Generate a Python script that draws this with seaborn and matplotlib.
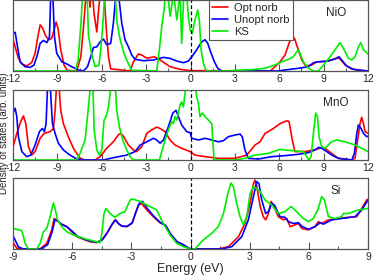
import numpy as np
import pandas as pd
import matplotlib
matplotlib.use('Agg')
import matplotlib.pyplot as plt
import seaborn as sns

# NiO
nio_opt_e = [-12.0, -11.86, -11.64, -11.41, -11.08, -10.74, -10.51, -10.33, -10.17, -9.99, -9.79, -9.57, -9.39, -9.23,
             -9.09, -8.96, -8.78, -8.55, -8.33, -7.70, -7.42, -7.24, -7.06, -6.9, -6.8, -6.68, -6.52, -6.34, -6.2, -6.05,
             -5.85, -5.7, -5.55, -5.4, -4.09, -3.86, -3.53, -3.3, -2.96, -2.46, -2.06, -1.38, -0.71, -0.03, 5.38, 5.71,
             6.05, 6.39, 6.66, 6.85, 7.05, 7.18, 7.29, 7.52, 7.79, 8.19, 8.53, 9.09, 9.66, 9.95, 10.17, 10.45, 10.9,
             11.57, 12.0]
nio_opt_v = [4.4, 3.4, 1.8, 1.0, 0.7, 1.2, 2.5, 4.8, 6.5, 6.0, 4.9, 4.4, 4.6, 5.8,
             6.9, 6.0, 3.0, 0.8, 0.1, 0.0, 2.0, 6.2, 11, 12, 9, 12, 8, 5.5, 9, 12,
             11, 6, 2, 0.3, 0.0, 1.3, 2.4, 2.25, 1.8, 2.0, 1.55, 0.6, 0.23, 0.05, 0.0, 0.6,
             1.3, 2.25, 3.9, 5.0, 4.5, 3.6, 3.0, 1.55, 0.7, 0.85, 1.27, 1.36, 1.64, 1.92, 1.55, 0.85, 0.28,
             0.05, 0.0]
nio_unopt_e = [-12.0, -11.86, -11.7, -11.53, -11.19, -10.85, -10.58, -10.36, -10.17, -9.95, -9.72, -9.54, -9.45, -9.32,
               -9.2, -9.05, -8.71, -8.37, -8.03, -7.58, -7.25, -6.97, -6.75, -6.57, -6.34, -6.12, -5.89, -5.67, -5.4,
               -5.22, -5.04, -4.88, -4.65, -4.43, -4.2, -3.98, -3.75, -3.19, -2.51, -1.83, -1.39, -0.93, -0.48, -0.15,
               0.08, 0.42, 0.75, 0.98, 1.16, 1.39, 1.61, 1.84, 2.11, 5.94, 6.39, 7.29, 7.97, 8.31, 8.64, 9.32, 9.88,
               10.04, 10.22, 10.56, 11.01, 12.0]
nio_unopt_v = [5.3, 5.45, 3.4, 1.3, 0.6, 0.5, 0.85, 2.25, 3.9, 4.3, 4.0, 4.8, 11, 11,
               4.8, 2.5, 1.3, 1.0, 0.6, 0.14, 0.0, 0.6, 2.0, 3.3, 3.4, 4.1, 4.5, 3.7, 3.9,
               6.7, 11, 11, 6.7, 4.4, 3.4, 2.25, 1.64, 1.45, 1.55, 1.92, 1.78, 1.4, 1.17, 1.4,
               2.0, 3.0, 4.1, 4.4, 3.9, 2.5, 1.3, 0.38, 0.0, 0.0, 0.14, 0.38, 0.6, 1.17, 1.3, 1.4, 1.78,
               2.0, 1.55, 0.7, 0.23, 0.0]
nio_ks_e = [-12.0, -7.8, -7.6, -7.4, -7.3, -7.15, -7.0, -6.9, -6.7, -6.45, -6.2, -6.07, -5.9, -5.8, -5.62, -5.1,
            -4.99, -4.77, -4.5, -4.2, -3.98, -2.29, -2.11, -1.95, -1.79, -1.7, -1.6, -1.38, -1.15, -0.93, -0.71,
            -0.6, -0.45, -0.3, -0.15, -0.03, 0.12, 0.3, 0.48, 0.6, 0.71, 0.87, 1.03, 1.2, 2.56, 3.0, 4.14, 5.04,
            5.71, 6.16, 6.61, 6.95, 7.18, 7.29, 7.4, 7.63, 7.97, 8.31, 8.64, 9.09, 9.43, 9.77, 10.11, 10.33,
            10.67, 10.9, 11.12, 11.35, 11.51, 11.69, 12.0]
nio_ks_v = [0.0, 0.0, 1.5, 7.0, 11, 12, 11, 5.0, 2.5, 0.6, 0.8, 3.0, 7.5, 11, 12, 11,
            7.1, 4.5, 2.5, 1.0, 0.1, 0.0, 3.0, 6.2, 8.6, 11, 12, 7.7, 11, 7.2, 11,
            3.9, 11, 12, 7.65, 5.8, 5.3, 7.2, 8.6, 7.0, 3.0, 1.1, 0.14, 0.0, 0.0, 0.1, 0.19, 0.38,
            0.85, 1.3, 1.64, 2.0, 2.7, 3.0, 2.5, 1.3, 0.38, 0.0, 0.0, 1.08, 2.0, 3.0, 4.0, 3.2,
            1.8, 1.55, 2.0, 3.4, 4.0, 3.0, 2.4]

# MnO
mno_opt_e = [-12.0, -11.75, -11.48, -11.3, -11.14, -10.96, -10.74, -10.51, -10.17, -9.9, -9.5, -9.27, -9.16, -9.05,
             -8.91, -8.78, -8.6, -8.26, -7.92, -7.47, -7.13, -6.46, -6.12, -5.67, -5.22, -4.88, -4.72, -4.54, -4.2,
             -3.86, -3.64, -3.3, -2.96, -2.63, -2.29, -2.06, -1.72, -1.39, -1.05, -0.6, -0.03, 0.3, 0.98, 1.88,
             3.01, 3.8, 4.36, 4.7, 5.04, 5.6, 6.05, 6.5, 6.66, 6.88, 7.06, 7.74, 8.53, 8.87, 9.09, 9.54, 9.99,
             10.9, 11.12, 11.3, 11.46, 11.57, 11.69, 11.8, 12.0]
mno_opt_v = [1.9, 3.8, 5.5, 6.3, 5.2, 1.9, 0.7, 1.2, 3.1, 3.8, 4.05, 4.5, 7.1, 11,
             11, 7.1, 5.2, 3.3, 1.67, 0.24, 0.0, 0.0, 0.48, 1.67, 2.6, 3.6, 3.8, 3.4, 2.14,
             1.43, 1.2, 1.9, 3.8, 4.3, 4.7, 4.5, 4.05, 2.86, 2.14, 1.67, 1.2, 0.7, 0.48, 0.24,
             0.24, 0.7, 2.14, 2.6, 3.8, 4.5, 5.2, 5.6, 5.5, 2.86, 1.2, 1.2, 1.52, 1.8, 1.67, 0.95, 0.24,
             0.0, 0.24, 2.86, 5.2, 6.1, 5.2, 4.05, 3.8]
mno_unopt_e = [-12.0, -11.86, -11.75, -11.64, -11.41, -11.08, -10.81, -10.51, -10.22, -10.02, -9.88, -9.77, -9.66,
               -9.5, -9.34, -9.16, -8.94, -8.6, -8.15, -7.7, -7.25, -5.89, -5.22, -4.31, -3.75, -3.41, -2.96, -2.51,
               -2.29, -2.06, -1.83, -1.5, -1.2, -0.98, -0.82, -0.6, -0.26, -0.03, 0.08, 0.53, 0.98, 1.43, 1.88,
               2.22, 2.56, 3.01, 3.35, 3.5, 3.68, 3.91, 4.59, 5.49, 6.39, 7.29, 7.97, 8.42, 8.64, 8.87, 9.21, 9.54,
               9.99, 10.9, 11.08, 11.24, 11.35, 11.53, 11.69, 11.91, 12.0]
mno_unopt_v = [6.7, 7.4, 6.2, 3.3, 1.2, 0.48, 0.7, 2.14, 4.05, 4.5, 4.05, 5.2, 11,
               11, 5.2, 3.8, 2.4, 1.43, 0.7, 0.14, 0.0, 0.0, 0.33, 0.7, 1.2, 2.14, 2.6, 3.1,
               2.86, 2.4, 2.86, 4.76, 6.7, 7.1, 6.2, 5.0, 4.05, 3.9, 3.1, 2.86, 3.1, 2.86, 2.6,
               2.76, 3.33, 3.57, 3.7, 3.3, 1.43, 0.24, 0.14, 0.48, 0.62, 0.81, 1.05, 1.43, 1.8, 1.67, 1.2, 0.7,
               0.24, 0.0, 0.95, 3.8, 5.0, 4.5, 3.8, 3.33, 3.4]
mno_ks_e = [-12.0, -7.7, -7.47, -7.13, -6.97, -6.84, -6.75, -6.62, -6.52, -6.34, -6.16, -6.0, -5.85, -5.71, -5.55,
            -5.44, -5.35, -5.1, -4.99, -4.81, -4.59, -4.31, -4.09, -3.86, -2.11, -1.95, -1.72, -1.5, -1.27, -1.16,
            -1.05, -0.93, -0.71, -0.6, -0.48, -0.3, 0.3, 0.42, 0.53, 0.64, 0.8, 0.98, 1.21, 1.43, 1.5, 1.59, 1.77,
            3.0, 3.68, 4.36, 5.26, 6.05, 6.39, 7.06, 7.63, 7.85, 8.01, 8.15, 8.31, 8.46, 8.58, 8.69, 8.87, 9.09,
            9.54, 9.88, 10.45, 11.12, 11.8, 12.0]
mno_ks_v = [0.0, 0.0, 0.95, 2.86, 6.2, 9.0, 11, 12, 4.3, 1.43, 0.7, 1.43, 5.7, 6.2, 7.6,
            9.5, 11, 11, 7.1, 4.76, 2.86, 1.43, 0.48, 0.0, 0.0, 1.2, 2.86, 4.3, 5.5, 5.2,
            6.2, 5.7, 7.86, 8.3, 7.6, 11, 11, 9.0, 8.1, 6.2, 6.7, 6.2, 5.7, 5.2, 2.86, 0.24, 0.0,
            0.0, 0.24, 0.7, 0.95, 1.52, 1.43, 1.3, 1.2, 0.48, 0.0, 0.48, 3.8, 6.7, 6.2, 3.33, 1.9, 1.67,
            2.6, 2.86, 2.6, 2.14, 1.43, 1.2]

# Si
si_opt_e = [-8.98, -8.81, -8.48, -7.63, -7.29, -7.04, -6.92, -6.79, -6.62, -6.28, -6.03, -5.77, -5.43, -5.1, -4.76,
            -4.5, -4.25, -4.0, -3.83, -3.66, -3.49, -3.24, -2.98, -2.8, -2.64, -2.48, -2.22, -1.89, -1.55, -1.29,
            -1.04, -0.7, -0.45, -0.11, 0.0, 1.41, 1.92, 2.43, 2.76, 3.02, 3.19, 3.27, 3.36, 3.53, 3.69, 3.81, 3.95,
            4.08, 4.2, 4.45, 4.71, 4.88, 5.05, 5.3, 5.47, 5.64, 5.98, 6.31, 6.48, 6.65, 6.99, 7.5, 8.0, 8.43,
            8.68, 8.93, 8.98]
si_opt_v = [0.8, 0.1, 0.0, 0.0, 0.8, 2.7, 4.3, 4.1, 3.6, 3.15, 2.44, 1.74, 1.36, 1.03, 0.9,
            1.27, 2.2, 3.4, 4.1, 3.6, 3.24, 3.15, 3.6, 5.0, 6.2, 6.4, 5.5, 4.55, 3.7, 3.4,
            2.2, 1.03, 0.7, 0.1, 0.0, 0.0, 0.33, 1.74, 3.6, 6.4, 9.2, 9.7, 8.8, 6.0, 4.55, 4.1, 5.0,
            6.7, 6.2, 4.55, 4.1, 4.3, 3.15, 3.4, 3.6, 2.9, 2.7, 3.15, 3.85, 3.6, 4.1, 4.3, 4.46, 4.55,
            5.7, 6.9, 7.0]
si_unopt_e = [-8.98, -8.73, -8.48, -7.6, -7.25, -7.02, -6.88, -6.72, -6.55, -6.25, -6.0, -5.74, -5.4, -5.07, -4.74,
              -4.47, -4.22, -3.97, -3.8, -3.63, -3.46, -3.21, -2.95, -2.77, -2.61, -2.44, -2.19, -1.86, -1.52,
              -1.26, -1.01, -0.67, -0.42, -0.08, 0.0, 1.58, 2.09, 2.6, 2.93, 3.19, 3.36, 3.47, 3.61, 3.81, 3.95,
              4.12, 4.25, 4.54, 4.79, 4.96, 5.21, 5.47, 5.67, 5.98, 6.31, 6.57, 6.74, 7.16, 7.67, 8.34, 8.68, 8.98]
si_unopt_v = [1.74, 0.3, 0.0, 0.0, 0.6, 2.4, 4.1, 3.9, 3.5, 3.1, 2.5, 1.8, 1.4, 1.1, 0.95,
              1.3, 2.3, 3.5, 4.1, 3.5, 3.2, 3.2, 3.7, 5.2, 6.4, 6.7, 5.7, 4.6, 3.7, 3.3,
              2.1, 1.0, 0.7, 0.12, 0.0, 0.0, 0.33, 1.74, 4.1, 7.4, 9.5, 9.2, 6.9, 5.0, 5.26,
              6.4, 6.2, 4.55, 4.46, 3.85, 3.6, 3.7, 3.15, 2.77, 3.15, 3.7, 3.5, 4.1, 4.3, 4.55, 5.5, 6.8]
si_ks_e = [-8.98, -8.73, -8.56, -8.39, -8.22, -7.8, -7.63, -7.46, -7.29, -7.12, -6.96, -6.87, -6.75, -6.53, -6.28,
           -5.94, -5.43, -4.93, -4.59, -4.5, -4.39, -4.29, -4.08, -3.83, -3.58, -3.32, -3.15, -3.03, -2.9, -2.56,
           -2.22, -1.72, -1.38, -1.04, -0.7, -0.36, 0.0, 0.23, 0.48, 0.74, 1.07, 1.41, 1.67, 1.89, 2.05, 2.17,
           2.34, 2.51, 2.68, 2.85, 3.02, 3.19, 3.36, 3.53, 3.78, 4.12, 4.45, 4.79, 5.1, 5.38, 5.72, 5.98, 6.23,
           6.48, 6.65, 6.79, 6.99, 7.33, 7.67, 7.75, 8.0, 8.51, 8.98]
si_ks_v = [2.9, 2.7, 2.6, 0.8, 0.0, 0.0, 0.8, 2.44, 2.9, 4.55, 6.5, 5.7, 4.1, 3.15, 2.44,
           1.97, 1.5, 1.13, 0.9, 2.2, 5.0, 5.7, 5.0, 4.46, 5.0, 5.26, 6.4, 7.0, 7.0, 6.7,
           6.2, 5.5, 3.6, 1.97, 0.8, 0.33, 0.0, 0.0, 0.8, 1.5, 2.2, 3.15, 5.0, 7.8, 9.3, 8.8,
           6.4, 4.55, 3.4, 4.55, 7.8, 8.8, 8.5, 8.1, 6.9, 6.2, 5.0, 5.26, 6.0, 5.26, 4.3, 3.85, 4.3,
           5.7, 7.4, 6.9, 4.55, 4.3, 4.55, 5.0, 5.0, 5.5, 5.7]

panel_names = ['NiO', 'MnO', 'Si']
series_labels = ['Opt norb', 'Unopt norb', 'KS']
colors = ['#ff0000', '#0000ff', '#00ee00']

panels = [
    (nio_opt_e, nio_opt_v, nio_unopt_e, nio_unopt_v, nio_ks_e, nio_ks_v),
    (mno_opt_e, mno_opt_v, mno_unopt_e, mno_unopt_v, mno_ks_e, mno_ks_v),
    (si_opt_e, si_opt_v, si_unopt_e, si_unopt_v, si_ks_e, si_ks_v),
]

sns.set_theme(style='white')
plt.rcParams['font.family'] = ['Liberation Sans', 'DejaVu Sans']
plt.rcParams['axes.unicode_minus'] = False

fig = plt.figure(figsize=(3.74, 2.77), dpi=100)
# axes rectangles in figure fractions
rects = [(0.035, 0.7437, 0.949, 0.2563),
         (0.035, 0.4224, 0.949, 0.2527),
         (0.035, 0.1011, 0.949, 0.2563)]
xlims = [(-12, 12), (-12, 12), (-9, 9)]

for i, (rect, data) in enumerate(zip(rects, panels)):
    ax = fig.add_axes(rect)
    for k in range(3):
        e = data[2 * k]
        v = data[2 * k + 1]
        df = pd.DataFrame({'Energy': e, 'DOS': v})
        sns.lineplot(data=df, x='Energy', y='DOS', color=colors[k], lw=1.2, sort=False,
                     estimator=None, ax=ax, label=series_labels[k] if i == 0 else None)
    ax.axvline(0, color='black', ls=(0, (3, 2)), lw=0.9)
    ax.set_xlim(*xlims[i])
    ax.set_ylim(0, 10)
    ax.set_yticks([])
    lo, hi = xlims[i]
    ax.set_xticks(np.arange(lo, hi + 0.1, 3))
    ax.set_xticks(np.arange(lo + 1.5, hi, 3), minor=True)
    ax.tick_params(axis='x', which='major', direction='in', length=5, width=0.8, color='#555555',
                   labelsize=7.5, pad=2, bottom=True)
    ax.tick_params(axis='x', which='minor', direction='in', length=2.5, width=0.8, color='#555555', bottom=True)
    ax.set_xlabel('')
    ax.set_ylabel('')
    for sp in ax.spines.values():
        sp.set_color('#555555')
        sp.set_linewidth(0.9)
    ax.text(0.91, 0.82, panel_names[i], transform=ax.transAxes, ha='center', va='center', fontsize=8.5)
    if i == 0:
        leg = ax.legend(loc='upper left', bbox_to_anchor=(0.558, 1.0), bbox_transform=fig.transFigure,
                        fontsize=8, frameon=True, fancybox=False, framealpha=1, edgecolor='#555555',
                        handlelength=1.4, handletextpad=0.6, borderpad=0.3, labelspacing=0.15,
                        borderaxespad=0)
        leg.get_frame().set_linewidth(0.8)
    if i == 2:
        ax.set_xlabel('Energy (eV)', fontsize=9, labelpad=1)

fig.text(0.011, 0.52, 'Density of states (arb. units)', rotation=90, ha='center', va='center', fontsize=7)

fig.savefig('out.png', dpi=100)
